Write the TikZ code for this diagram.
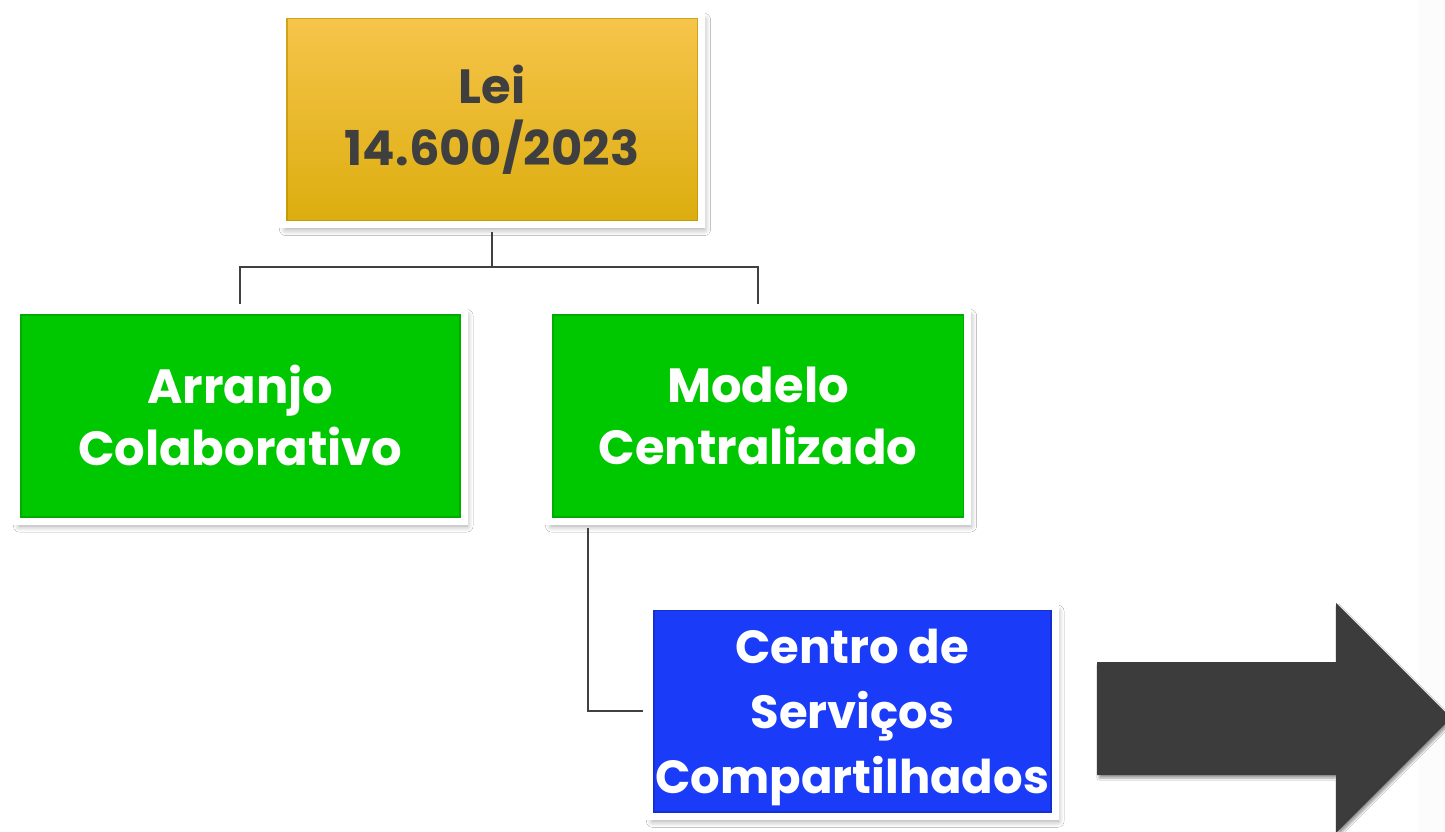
\documentclass[tikz,border=0pt]{standalone}
\usepackage{fontspec}
\setmainfont{Poppins}
\usetikzlibrary{shadows,shadows.blur,calc}
\definecolor{goldtop}{HTML}{F7C54C}
\definecolor{goldbot}{HTML}{DCAD0E}
\definecolor{golddark}{HTML}{B88E00}
\definecolor{grn}{HTML}{00C800}
\definecolor{grndark}{HTML}{009A00}
\definecolor{blu}{HTML}{1A3CF8}
\definecolor{bludark}{HTML}{1028B8}
\definecolor{txtdark}{HTML}{3F3F3F}
\definecolor{connc}{HTML}{404040}
\definecolor{arrowc}{HTML}{3C3C3C}
\definecolor{panel}{HTML}{FCFCFC}
\tikzset{
  box/.style={draw=white, line width=7pt, inner sep=0pt, align=center,
    font=\fontsize{48}{62}\selectfont\bfseries,
    blur shadow={shadow xshift=3pt, shadow yshift=-5pt, shadow blur radius=6pt, shadow blur steps=8, shadow opacity=35}},
  bevel/.style={path picture={\draw[#1, line width=10pt, opacity=0.6]
      (path picture bounding box.south west) rectangle (path picture bounding box.north east);}},
  goldbox/.style={box, top color=goldtop, bottom color=goldbot, bevel=golddark, text=txtdark},
  greenbox/.style={box, fill=grn, bevel=grndark, text=white},
  bluebox/.style={box, fill=blu, bevel=bludark, text=white},
  conn/.style={draw=connc, line width=2.4pt},
}
\begin{document}
\begin{tikzpicture}[x=1pt,y=-1pt]
\useasboundingbox (0,0) rectangle (1445,832);
\fill[white] (0,0) rectangle (1445,832);
\fill[panel] (1418,0) rectangle (1445,832);

\node[goldbox, minimum width=419pt, minimum height=210pt] (lei) at (492,119.5) {Lei\\14.600/2023};
\node[greenbox, minimum width=447.5pt, minimum height=210.5pt] (arr) at (240.25,415.75) {Arranjo\\Colaborativo};
\node[greenbox, minimum width=419pt, minimum height=210.5pt] (mod) at (758,415.75) {Modelo\\Centralizado};
\node[bluebox, minimum width=405.5pt, minimum height=210pt, font=\fontsize{46.5}{65}\selectfont\bfseries] (ctr) at (852.25,711.25) {\rule{0pt}{47pt}Centro de\\Serviços\\Compartilhados};

\coordinate (j) at (492,267);
\draw[conn] ([yshift=-3.5pt]lei.south) -- (j);
\draw[conn] ([yshift=3.5pt]arr.north) |- (j) -| ([yshift=3.5pt]mod.north);
\draw[conn] ([xshift=43pt,yshift=-3.5pt]mod.south west) |- ([xshift=-3.5pt]ctr.west);

\fill[arrowc, blur shadow={shadow xshift=2pt, shadow yshift=-3pt, shadow blur steps=6, shadow opacity=40}]
  (1097,662) -- (1336,662) -- (1336,603) -- (1451,718) -- (1336,833) -- (1336,775) -- (1097,775) -- cycle;
\end{tikzpicture}
\end{document}
